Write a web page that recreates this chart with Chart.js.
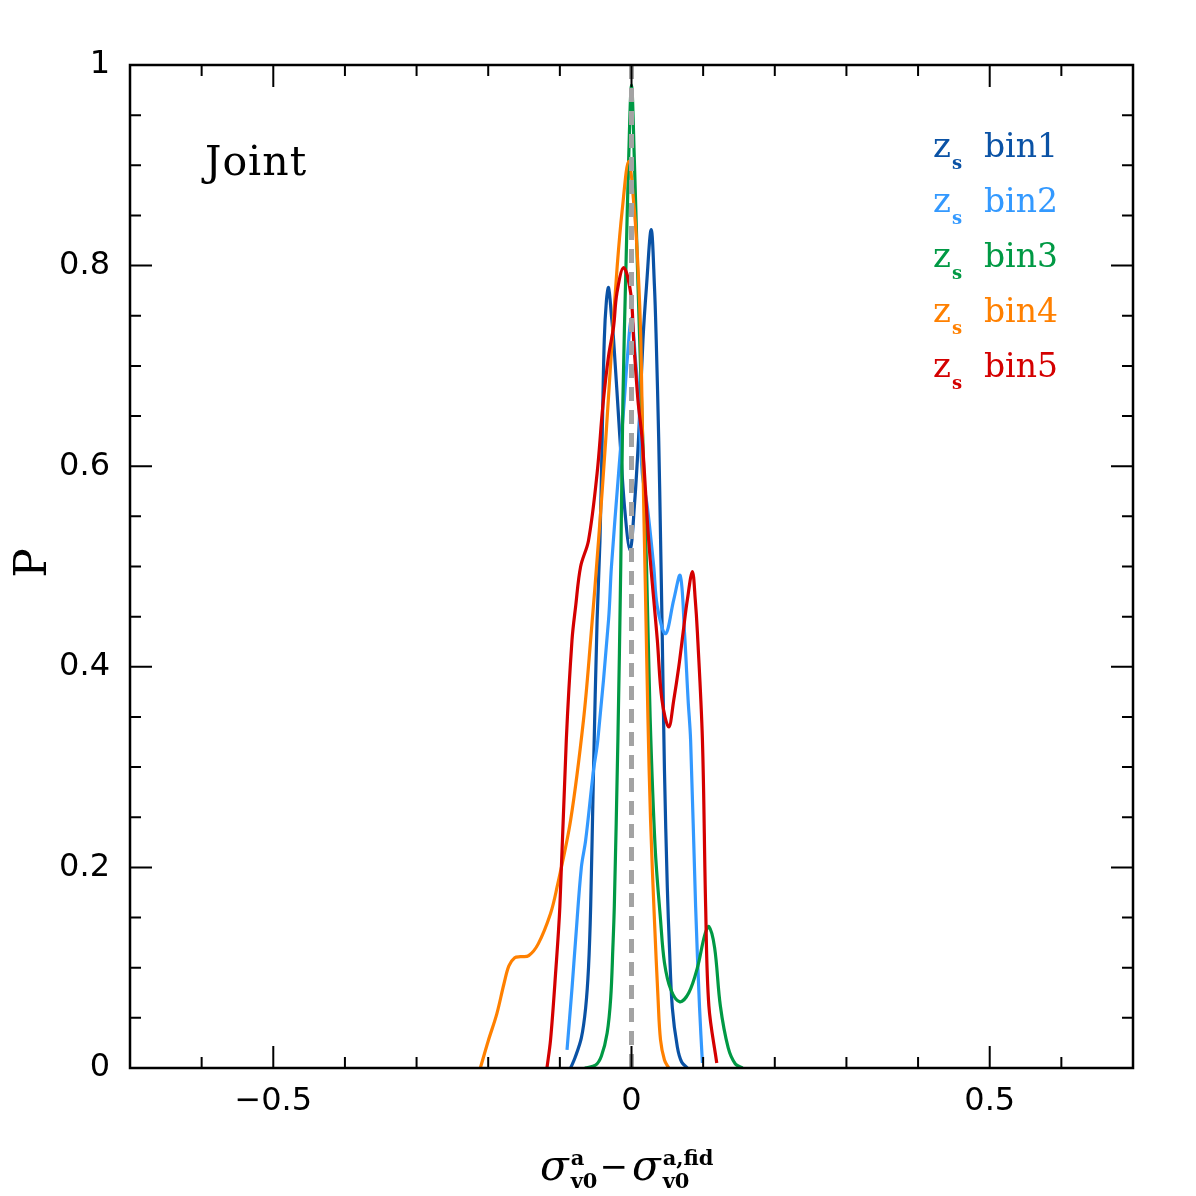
<!DOCTYPE html>
<html>
<head>
<meta charset="utf-8">
<script src="https://cdn.jsdelivr.net/npm/chart.js@4.4.0/dist/chart.umd.min.js"></script>
<style>
  body { margin: 0; background: #fff; }
  #wrap { width: 1196px; height: 1196px; }
</style>
</head>
<body>
<div id="wrap"><canvas id="myChart" width="1196" height="1196"></canvas></div>
<script>
// series data: x = sigma offset, y = P
var bin1X = [-0.085, -0.079, -0.070, -0.064, -0.060, -0.057, -0.053, -0.048, -0.044, -0.041, -0.038, -0.035, -0.032, -0.028, -0.025, -0.016, -0.0098, -0.002, 0.004, 0.010, 0.016, 0.021, 0.0275, 0.032, 0.0345, 0.038, 0.0406, 0.043, 0.046, 0.050, 0.053, 0.057, 0.064, 0.070, 0.078];
var bin1Y = [0, 0.01, 0.03, 0.06, 0.1, 0.161, 0.297, 0.447, 0.526, 0.626, 0.726, 0.765, 0.778, 0.75, 0.726, 0.626, 0.56, 0.516, 0.56, 0.63, 0.726, 0.78, 0.836, 0.78, 0.726, 0.626, 0.526, 0.427, 0.297, 0.18, 0.12, 0.06, 0.021, 0.006, 0];

var bin2X = [-0.090, -0.083, -0.078, -0.070, -0.064, -0.053, -0.047, -0.032, -0.028, -0.018, -0.010, -0.006, 0.0, 0.0056, 0.010, 0.015, 0.022, 0.031, 0.036, 0.0475, 0.059, 0.068, 0.074, 0.079, 0.0825, 0.0895, 0.095, 0.099];
var bin2Y = [0.018, 0.08, 0.128, 0.2, 0.227, 0.297, 0.327, 0.447, 0.5, 0.593, 0.666, 0.706, 0.748, 0.706, 0.666, 0.593, 0.56, 0.5, 0.46, 0.433, 0.467, 0.491, 0.434, 0.367, 0.327, 0.161, 0.06, 0.005];

var bin3X = [-0.065, -0.05, -0.042, -0.034, -0.029, -0.026, -0.024, -0.019, -0.015, -0.012, -0.0075, -0.004, 0.0, 0.004, 0.008, 0.014, 0.021, 0.026, 0.033, 0.0405, 0.046, 0.055, 0.0675, 0.08, 0.092, 0.102, 0.108, 0.116, 0.124, 0.135, 0.145, 0.155];
var bin3Y = [0, 0.003, 0.012, 0.035, 0.07, 0.12, 0.161, 0.327, 0.5, 0.666, 0.806, 0.905, 0.98, 0.905, 0.806, 0.666, 0.5, 0.35, 0.22, 0.148, 0.105, 0.078, 0.066, 0.075, 0.1, 0.132, 0.141, 0.12, 0.062, 0.02, 0.004, 0];

var bin4X = [-0.211, -0.2, -0.188, -0.178, -0.171, -0.163, -0.155, -0.1435, -0.13, -0.113, -0.104, -0.085, -0.067, -0.057, -0.046, -0.036, -0.027, -0.020, -0.013, -0.004, 0.004, 0.009, 0.013, 0.016, 0.0196, 0.023, 0.0266, 0.032, 0.037, 0.0405, 0.046, 0.052];
var bin4Y = [0, 0.027, 0.054, 0.084, 0.102, 0.110, 0.111, 0.112, 0.124, 0.154, 0.18, 0.247, 0.347, 0.427, 0.526, 0.626, 0.726, 0.799, 0.855, 0.904, 0.855, 0.799, 0.726, 0.6, 0.47, 0.347, 0.247, 0.148, 0.07, 0.028, 0.008, 0];

var bin5X = [-0.118, -0.113, -0.106, -0.1, -0.091, -0.083, -0.078, -0.071, -0.06, -0.048, -0.04, -0.032, -0.025, -0.0205, -0.011, -0.001, 0.003, 0.009, 0.015, 0.024, 0.036, 0.0425, 0.052, 0.059, 0.066, 0.072, 0.078, 0.085, 0.089, 0.092, 0.099, 0.1035, 0.108, 0.119];
var bin5Y = [0, 0.028, 0.094, 0.161, 0.327, 0.427, 0.46, 0.5, 0.526, 0.593, 0.66, 0.71, 0.739, 0.772, 0.798, 0.772, 0.726, 0.666, 0.626, 0.526, 0.427, 0.367, 0.34, 0.367, 0.4, 0.434, 0.467, 0.495, 0.467, 0.434, 0.327, 0.161, 0.062, 0.005];

var fidX = [0, 0];
var fidY = [0, 1];

var binLabels = ['bin1', 'bin2', 'bin3', 'bin4', 'bin5'];
var binColors = ['#0a52a5', '#3399ff', '#009944', '#ff8000', '#d40000'];

var xTicks = [-0.5, 0, 0.5];
var xMinor = [-0.6, -0.4, -0.3, -0.2, -0.1, 0.1, 0.2, 0.3, 0.4, 0.6];
var yTicks = [0, 0.2, 0.4, 0.6, 0.8, 1];
var yMinor = [0.05, 0.1, 0.15, 0.25, 0.3, 0.35, 0.45, 0.5, 0.55, 0.65, 0.7, 0.75, 0.85, 0.9, 0.95];

function pts(xs, ys) {
    return xs.map(function(x, i) { return {x: x, y: ys[i]}; });
}

var seriesX = [bin1X, bin2X, bin3X, bin4X, bin5X];
var seriesY = [bin1Y, bin2Y, bin3Y, bin4Y, bin5Y];

var datasets = [{
    label: 'fid',
    data: pts(fidX, fidY),
    borderColor: '#a3a3a3',
    borderWidth: 5,
    borderDash: [14, 9],
    pointRadius: 0,
    showLine: true,
    order: 0
}];
for (var i = 0; i < 5; i++) {
    datasets.push({
        label: binLabels[i],
        data: pts(seriesX[i], seriesY[i]),
        borderColor: binColors[i],
        borderWidth: 3.2,
        pointRadius: 0,
        showLine: true,
        tension: 0.35,
        order: 5 - i
    });
}

// frame, inward ticks and all the text that needs sub/superscripts
var decorations = {
    id: 'decorations',
    afterDraw: function(chart) {
        var ctx = chart.ctx;
        var a = chart.chartArea;
        var xs = chart.scales.x, ys = chart.scales.y;
        ctx.save();
        ctx.strokeStyle = '#000';
        ctx.lineWidth = 2.5;
        ctx.strokeRect(a.left, a.top, a.right - a.left, a.bottom - a.top);

        ctx.lineWidth = 2;
        ctx.beginPath();
        function xt(v, len) {
            var p = xs.getPixelForValue(v);
            ctx.moveTo(p, a.bottom); ctx.lineTo(p, a.bottom - len);
            ctx.moveTo(p, a.top); ctx.lineTo(p, a.top + len);
        }
        function yt(v, len) {
            var p = ys.getPixelForValue(v);
            ctx.moveTo(a.left, p); ctx.lineTo(a.left + len, p);
            ctx.moveTo(a.right, p); ctx.lineTo(a.right - len, p);
        }
        xTicks.forEach(function(v) { xt(v, 22); });
        xMinor.forEach(function(v) { xt(v, 11); });
        yTicks.forEach(function(v) { yt(v, 22); });
        yMinor.forEach(function(v) { yt(v, 11); });
        ctx.stroke();

        // panel label
        ctx.fillStyle = '#000';
        ctx.textBaseline = 'alphabetic';
        ctx.textAlign = 'left';
        ctx.font = '41px "DejaVu Serif"';
        ctx.letterSpacing = '1px';
        ctx.fillText('Joint', 205, 175);
        ctx.letterSpacing = '0px';

        // legend
        for (var k = 0; k < binLabels.length; k++) {
            var base = 157 + k * 55;
            ctx.fillStyle = binColors[k];
            ctx.font = '34px "DejaVu Serif"';
            ctx.fillText('z', 933, base);
            ctx.font = 'bold 18px "DejaVu Serif"';
            ctx.fillText('s', 952, base + 12);
            ctx.font = '33px "DejaVu Serif"';
            ctx.fillText(binLabels[k], 984, base);
        }

        // y title
        ctx.fillStyle = '#000';
        ctx.save();
        ctx.translate(46, 563);
        ctx.rotate(-Math.PI / 2);
        ctx.textAlign = 'center';
        ctx.font = '44px "DejaVu Serif"';
        ctx.fillText('P', 0, 0);
        ctx.restore();

        // x title
        var x = 540, base2 = 1180;
        ctx.textAlign = 'left';
        ctx.font = 'italic 42px "DejaVu Serif"';
        ctx.fillText('σ', x, base2);
        x += ctx.measureText('σ').width + 2;
        ctx.font = 'bold 21px "DejaVu Serif"';
        ctx.fillText('a', x, base2 - 15);
        ctx.fillText('v0', x, base2 + 8);
        x += ctx.measureText('v0').width + 2;
        ctx.font = '34px "DejaVu Sans"';
        ctx.fillText('−', x, base2 - 2);
        x += ctx.measureText('−').width + 4;
        ctx.font = 'italic 42px "DejaVu Serif"';
        ctx.fillText('σ', x, base2);
        x += ctx.measureText('σ').width + 2;
        ctx.font = 'bold 21px "DejaVu Serif"';
        ctx.fillText('a,fid', x, base2 - 15);
        ctx.fillText('v0', x, base2 + 8);
        ctx.restore();
    }
};

(function() {
    var ctx = document.getElementById('myChart').getContext('2d');
    var myChart = new Chart(ctx, {
        type: 'scatter',
        data: { datasets: datasets },
        options: {
            responsive: false,
            animation: false,
            layout: { padding: { top: 65, right: 63, left: 0, bottom: 0 } },
            plugins: { legend: { display: false }, tooltip: { enabled: false } },
            scales: {
                x: {
                    type: 'linear',
                    min: -0.7,
                    max: 0.7,
                    afterBuildTicks: function(s) { s.ticks = xTicks.map(function(v) { return {value: v}; }); },
                    afterFit: function(s) { s.height = 128; },
                    grid: { display: false, drawTicks: false },
                    border: { display: false },
                    ticks: {
                        color: '#000',
                        padding: 14,
                        font: { family: 'DejaVu Sans', size: 32 },
                        maxRotation: 0,
                        callback: function(v) { return v === 0 ? '0' : (v < 0 ? '−' : '') + Math.abs(v); }
                    }
                },
                y: {
                    type: 'linear',
                    min: 0,
                    max: 1,
                    afterBuildTicks: function(s) { s.ticks = yTicks.map(function(v) { return {value: v}; }); },
                    afterFit: function(s) { s.width = 130; },
                    grid: { display: false, drawTicks: false },
                    border: { display: false },
                    ticks: {
                        color: '#000',
                        padding: 20,
                        font: { family: 'DejaVu Sans', size: 32 },
                        callback: function(v) { return String(v); }
                    }
                }
            }
        },
        plugins: [decorations]
    });
})();
</script>
</body>
</html>
